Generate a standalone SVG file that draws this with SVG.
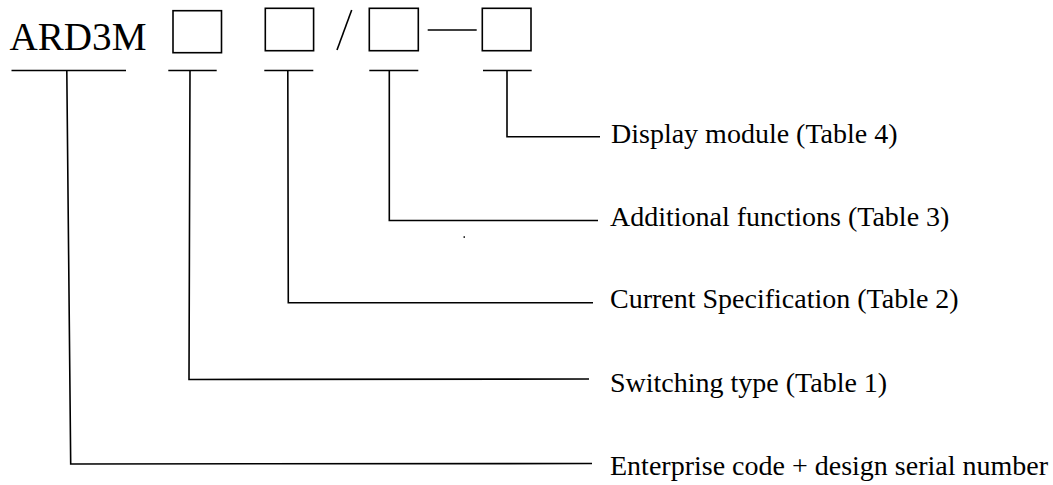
<svg xmlns="http://www.w3.org/2000/svg" width="1053" height="485" viewBox="0 0 1053 485">
<style>
.t{font-family:"Liberation Serif","Times New Roman",serif;fill:#000}
.lbl{font-size:28px}
.code{font-size:40px}
.box{fill:none;stroke:#000;stroke-width:1.6}
.ln{fill:none;stroke:#000;stroke-width:1.6}
</style>
<rect width="1053" height="485" fill="#fff"/>
<g id="code">
<text class="t code" x="9.5" y="50" textLength="137" lengthAdjust="spacingAndGlyphs">ARD3M</text>
<line class="ln" x1="11.5" y1="70.5" x2="126" y2="70.5"/>
</g>
<g id="box1">
<rect class="box" x="173" y="10.7" width="48.5" height="42"/>
<line class="ln" x1="168.3" y1="70.5" x2="216.7" y2="70.5"/>
</g>
<g id="box2">
<rect class="box" x="265.3" y="8.3" width="48.3" height="42.4"/>
<line class="ln" x1="264.3" y1="70.5" x2="313.3" y2="70.5"/>
</g>
<g id="slash">
<line class="ln" x1="351.7" y1="10" x2="337" y2="50"/>
</g>
<g id="box3">
<rect class="box" x="369.3" y="8.3" width="49" height="42.4"/>
<line class="ln" x1="369.3" y1="70.5" x2="418.3" y2="70.5"/>
</g>
<g id="dash">
<line class="ln" x1="427.7" y1="30" x2="476.7" y2="30"/>
</g>
<g id="box4">
<rect class="box" x="482.3" y="8.3" width="48.7" height="42.4"/>
<line class="ln" x1="483" y1="70.5" x2="531.7" y2="70.5"/>
</g>
<g id="connectors">
<polyline class="ln" points="507,70.5 507,136.7 600,136.7"/>
<polyline class="ln" points="389.3,70.5 389.3,220.5 598,220.5"/>
<polyline class="ln" points="287.8,70.5 288.3,302.7 593,302.7"/>
<polyline class="ln" points="190,70.5 189,379.5 589,379"/>
<polyline class="ln" points="66.8,70.5 70.7,464 592,463.5"/>
</g>
<g id="labels">
<text class="t lbl" x="611" y="143.3">Display module (Table 4)</text>
<text class="t lbl" x="610" y="226">Additional functions (Table 3)</text>
<text class="t lbl" x="610" y="308.3">Current Specification (Table 2)</text>
<text class="t lbl" x="610" y="391.7">Switching type (Table 1)</text>
<text class="t lbl" x="610" y="475">Enterprise code + design serial number</text>
</g>
<rect x="463.5" y="236.3" width="1.5" height="1.5" fill="#000"/>
</svg>
